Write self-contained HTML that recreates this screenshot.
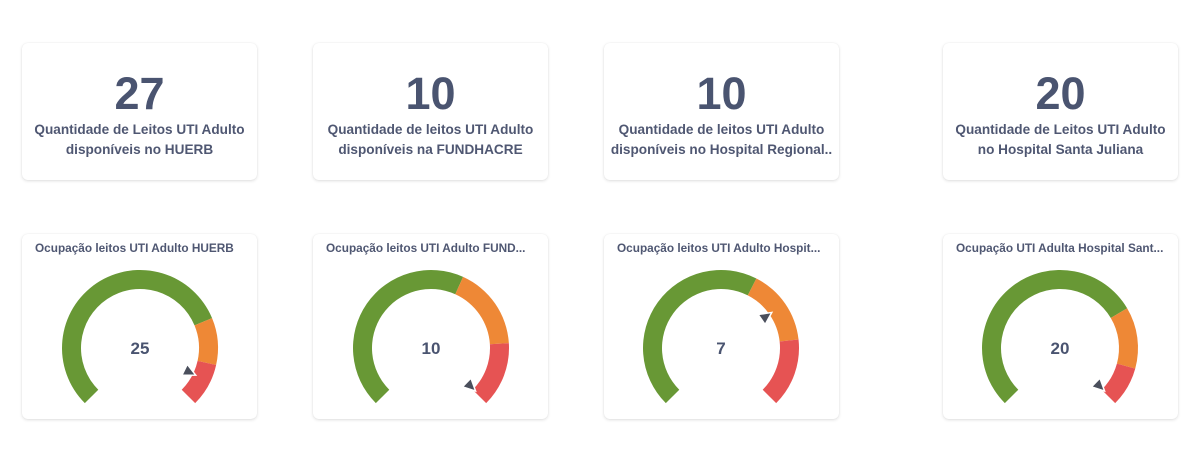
<!DOCTYPE html>
<html><head><meta charset="utf-8">
<style>
html,body{margin:0;padding:0;background:#fff;width:1200px;height:455px;overflow:hidden;font-family:"Liberation Sans",sans-serif;}
.card{position:absolute;background:#fff;border-radius:6px;box-shadow:0 1px 3px rgba(0,0,0,0.13),0 0 1px rgba(0,0,0,0.08);}
.num{position:absolute;left:0;right:0;top:26px;text-align:center;font-size:45px;font-weight:bold;color:#4a5470;line-height:50px;}
.sub{position:absolute;left:0;right:0;top:77px;text-align:center;font-size:13.6px;font-weight:bold;color:#4f5772;line-height:20px;white-space:nowrap;}
.ttl{position:absolute;left:13px;top:7px;font-size:11.8px;font-weight:bold;color:#4f5772;white-space:nowrap;}
svg{position:absolute;left:0;top:0;}
</style></head><body>
<div class="card" style="left:22px;top:43px;width:235px;height:137px"><div class="num">27</div><div class="sub">Quantidade de Leitos UTI Adulto<br>disponíveis no HUERB</div></div>
<div class="card" style="left:313px;top:43px;width:235px;height:137px"><div class="num">10</div><div class="sub">Quantidade de leitos UTI Adulto<br>disponíveis na FUNDHACRE</div></div>
<div class="card" style="left:604px;top:43px;width:235px;height:137px"><div class="num">10</div><div class="sub">Quantidade de leitos UTI Adulto<br>disponíveis no Hospital Regional..</div></div>
<div class="card" style="left:943px;top:43px;width:235px;height:137px"><div class="num">20</div><div class="sub">Quantidade de Leitos UTI Adulto<br>no Hospital Santa Juliana</div></div>

<div class="card" style="left:22px;top:234px;width:235px;height:185px"><div class="ttl">Ocupação leitos UTI Adulto HUERB</div></div>
<div class="card" style="left:313px;top:234px;width:235px;height:185px"><div class="ttl">Ocupação leitos UTI Adulto FUND...</div></div>
<div class="card" style="left:604px;top:234px;width:235px;height:185px"><div class="ttl">Ocupação leitos UTI Adulto Hospit...</div></div>
<div class="card" style="left:943px;top:234px;width:235px;height:185px"><div class="ttl">Ocupação UTI Adulta Hospital Sant...</div></div>

<svg id="g" width="1200" height="455" xmlns="http://www.w3.org/2000/svg"></svg>
<script>
var gauges=[
 {cx:140,val:"25",b:[0.75,0.88],p:116},
 {cx:431,val:"10",b:[0.59,0.82],p:134},
 {cx:721,val:"7",b:[0.60,0.81],p:55},
 {cx:1060,val:"20",b:[0.72,0.89],p:134}
];
var cy=348,R=78,r=59,s="";
function pt(cx,rad,deg){var a=deg*Math.PI/180;return [cx+rad*Math.sin(a),cy-rad*Math.cos(a)];}
function seg(cx,a0,a1,col){
 var p0=pt(cx,R,a0),p1=pt(cx,R,a1),p2=pt(cx,r,a1),p3=pt(cx,r,a0);var lg=(a1-a0)>180?1:0;
 return '<path fill="'+col+'" d="M'+p0+' A'+R+' '+R+' 0 '+lg+' 1 '+p1+' L'+p2+' A'+r+' '+r+' 0 '+lg+' 0 '+p3+'Z"/>';
}
gauges.forEach(function(g){
 var a1=-135+270*g.b[0],a2=-135+270*g.b[1];
 s+=seg(g.cx,-135,a1,"#689835")+seg(g.cx,a1,a2,"#ee8836")+seg(g.cx,a2,135,"#e65353");
 var tip=pt(g.cx,r+3,g.p),bl=pt(g.cx,r-9,g.p-7),br=pt(g.cx,r-9,g.p+7);
 s+='<polygon points="'+tip+' '+bl+' '+br+'" fill="#4a4f5c" stroke="#fff" stroke-width="1.5"/>';
 s+='<text x="'+g.cx+'" y="'+(cy+6)+'" text-anchor="middle" font-family="Liberation Sans,sans-serif" font-size="17" font-weight="bold" fill="#4a5470">'+g.val+'</text>';
});
document.getElementById("g").innerHTML=s;
</script>
</body></html>
